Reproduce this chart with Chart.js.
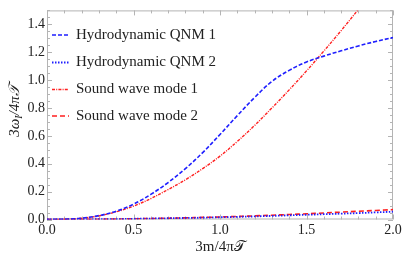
<!DOCTYPE html>
<html>
<head>
<meta charset="utf-8">
<script src="https://cdn.jsdelivr.net/npm/chart.js@4/dist/chart.umd.min.js"></script>
<style>
html,body{margin:0;padding:0;background:#fff;}
#wrap{width:409px;height:264px;}
</style>
</head>
<body>
<div id="wrap"><canvas id="c" width="409" height="264"></canvas></div>
<script>
// ---- data ----
const xs = [0,0.1,0.2,0.3,0.4,0.5,0.6,0.7,0.8,0.9,1.0,1.1,1.2,1.3,1.4,1.5,1.6,1.7,1.8,1.9,2.0];
const hydroQNM1 = [0,0.002,0.01,0.028,0.06,0.11,0.18,0.265,0.365,0.48,0.61,0.745,0.875,0.99,1.07,1.13,1.172,1.21,1.245,1.277,1.305];
const hydroQNM2 = [0,0.0005,0.001,0.002,0.003,0.005,0.007,0.009,0.011,0.013,0.016,0.019,0.022,0.026,0.030,0.034,0.038,0.042,0.046,0.051,0.056];
const soundMode1 = [0,0.002,0.009,0.026,0.055,0.096,0.15,0.215,0.285,0.365,0.455,0.56,0.675,0.8,0.93,1.066,1.208,1.355,1.507,1.66,1.82];
const soundMode2 = [0,0.0005,0.001,0.002,0.003,0.005,0.007,0.009,0.012,0.015,0.018,0.022,0.026,0.031,0.036,0.041,0.047,0.053,0.059,0.065,0.071];
const seriesLabels = ['Hydrodynamic QNM 1','Hydrodynamic QNM 2','Sound wave mode 1','Sound wave mode 2'];
const xTicks = [0,0.5,1.0,1.5,2.0];
const yTicks = [0,0.2,0.4,0.6,0.8,1.0,1.2,1.4];
const xTitle = '3m/4π𝒯';
const yTitleParts = ['3ω', 'I', '/4π𝒯'];

const BLUE = '#1f1fff';
const RED = '#ff1f1f';
const SERIF = '"Liberation Serif", "DejaVu Serif", serif';

function pts(arr){ return xs.map((x,i)=>({x:x,y:arr[i]})); }

const styles = [
  {color:BLUE, dash:[4,2], width:1.6},
  {color:BLUE, dash:[1.5,1.5], width:1.8},
  {color:RED, dash:[3,1.2,1,1.2], width:1.4},
  {color:RED, dash:[5,3], width:1.6}
];
const seriesData = [hydroQNM1, hydroQNM2, soundMode1, soundMode2];

const datasets = seriesData.map((d,i)=>({
  label: seriesLabels[i],
  data: pts(d),
  borderColor: styles[i].color,
  borderDash: styles[i].dash,
  borderWidth: styles[i].width,
  pointRadius: 0,
  fill: false,
  tension: 0.4
}));

const framePlugin = {
  id: 'frame',
  beforeDatasetsDraw(chart){
    const {ctx, chartArea:a, scales:{x,y}} = chart;
    ctx.save();
    ctx.strokeStyle = '#b4b4b4';
    ctx.lineWidth = 1;
    ctx.strokeRect(a.left+0.5, a.top+0.5, a.right-a.left-1, a.bottom-a.top-1);
    ctx.beginPath();
    for (let k=0;k<=20;k++){
      const v = k/10;
      const px = Math.round(x.getPixelForValue(v))+0.5;
      const len = (k%5===0)?5:3;
      ctx.moveTo(px, a.bottom); ctx.lineTo(px, a.bottom-len);
      ctx.moveTo(px, a.top); ctx.lineTo(px, a.top+len);
    }
    for (let k=0;k<=30;k++){
      const v = k*0.05;
      const py = Math.round(y.getPixelForValue(v))+0.5;
      const len = (k%4===0)?5:3;
      ctx.moveTo(a.left, py); ctx.lineTo(a.left+len, py);
      ctx.moveTo(a.right, py); ctx.lineTo(a.right-len, py);
    }
    ctx.stroke();
    ctx.restore();
  },
  afterDraw(chart){
    const {ctx, chartArea:a} = chart;
    ctx.save();
    ctx.font = '15px ' + SERIF;
    ctx.textBaseline = 'middle';
    const rows = [35, 62.5, 89.5, 116];
    chart.data.datasets.forEach((ds,i)=>{
      const yy = rows[i];
      ctx.strokeStyle = ds.borderColor;
      ctx.lineWidth = ds.borderWidth;
      ctx.setLineDash(ds.borderDash);
      ctx.beginPath(); ctx.moveTo(52, yy); ctx.lineTo(69, yy); ctx.stroke();
      ctx.setLineDash([]);
      ctx.fillStyle = '#222';
      ctx.textAlign = 'left';
      ctx.fillText(ds.label, 76, yy);
    });
    ctx.fillStyle = '#222';
    ctx.font = '15px ' + SERIF;
    ctx.textAlign = 'center';
    ctx.textBaseline = 'middle';
    ctx.fillText(xTitle, (a.left+a.right)/2, 247);
    ctx.translate(15, (a.top+a.bottom)/2 - 4);
    ctx.rotate(-Math.PI/2);
    const f1 = 'italic 15px ' + SERIF, f2 = 'italic 10px ' + SERIF;
    ctx.font = f1; const w1 = ctx.measureText(yTitleParts[0]).width;
    ctx.font = f2; const w2 = ctx.measureText(yTitleParts[1]).width;
    ctx.font = f1; const w3 = ctx.measureText(yTitleParts[2]).width;
    let sx = -(w1+w2+w3)/2;
    ctx.textAlign = 'left';
    ctx.font = f1; ctx.fillText(yTitleParts[0], sx, 0); sx += w1;
    ctx.font = f2; ctx.fillText(yTitleParts[1], sx, 4); sx += w2;
    ctx.font = f1; ctx.fillText(yTitleParts[2], sx, 0);
    ctx.restore();
  }
};

new Chart(document.getElementById('c'), {
  type: 'line',
  data: { datasets },
  options: {
    responsive: false,
    animation: false,
    layout: { padding: { top: 7, right: 16, left: 0, bottom: 0 } },
    plugins: { legend: { display: false }, tooltip: { enabled: false } },
    scales: {
      x: {
        type: 'linear', min: 0, max: 2,
        grid: { display: false, drawTicks: false },
        border: { display: false },
        afterBuildTicks(s){ s.ticks = xTicks.map(v=>({value:v})); },
        afterFit(s){ s.height = 44.5; },
        ticks: { padding: 2, color: '#222', font: { family: SERIF, size: 14 }, maxRotation: 0,
                 callback: v => v.toFixed(1) }
      },
      y: {
        type: 'linear', min: 0, max: 1.5,
        grid: { display: false, drawTicks: false },
        border: { display: false },
        afterBuildTicks(s){ s.ticks = yTicks.map(v=>({value:v})); },
        afterFit(s){ s.width = 47; },
        ticks: { padding: 2, color: '#222', font: { family: SERIF, size: 14 },
                 callback: v => v.toFixed(1) }
      }
    }
  },
  plugins: [framePlugin]
});
</script>
</body>
</html>
